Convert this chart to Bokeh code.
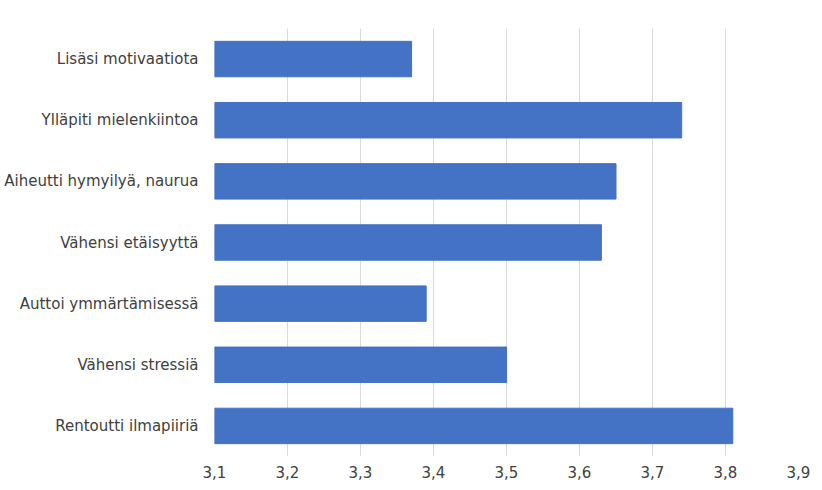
from bokeh.plotting import figure
from bokeh.models import FactorRange, Range1d, FixedTicker
from bokeh.embed import file_html
from bokeh.resources import INLINE

categories = ["Lisäsi motivaatiota", "Ylläpiti mielenkiintoa", "Aiheutti hymyilyä, naurua",
              "Vähensi etäisyyttä", "Auttoi ymmärtämisessä", "Vähensi stressiä", "Rentoutti ilmapiiriä"]
values = [3.37, 3.74, 3.65, 3.63, 3.39, 3.50, 3.81]
ticks = [3.1, 3.2, 3.3, 3.4, 3.5, 3.6, 3.7, 3.8, 3.9]
tick_labels = ["3,1", "3,2", "3,3", "3,4", "3,5", "3,6", "3,7", "3,8", "3,9"]

p = figure(width=822, height=490, output_backend="svg", toolbar_location=None,
           y_range=FactorRange(factors=list(reversed(categories)), range_padding=0),
           x_range=Range1d(3.1, 3.9),
           min_border_left=214, min_border_right=24, min_border_top=28, min_border_bottom=34)
p.outline_line_color = None
p.background_fill_color = "white"

p.hbar(y=categories, left=3.1, right=values, height=0.58, color="#4472C4")

p.xaxis.ticker = FixedTicker(ticks=ticks)
p.xaxis.major_label_overrides = {t: l for t, l in zip(ticks, tick_labels)}
p.xgrid.ticker = FixedTicker(ticks=ticks)
p.xgrid.grid_line_color = "#d9d9d9"
p.ygrid.grid_line_color = None

for ax in (p.xaxis, p.yaxis):
    ax.axis_line_color = None
    ax.major_tick_line_color = None
    ax.minor_tick_line_color = None
    ax.major_label_text_font = "DejaVu Sans"
    ax.major_label_text_font_size = "15px"
    ax.major_label_text_color = "#404040"
p.yaxis.major_label_standoff = 10
p.xaxis.major_label_standoff = 3

open("out.html", "w").write(file_html(p, INLINE))
